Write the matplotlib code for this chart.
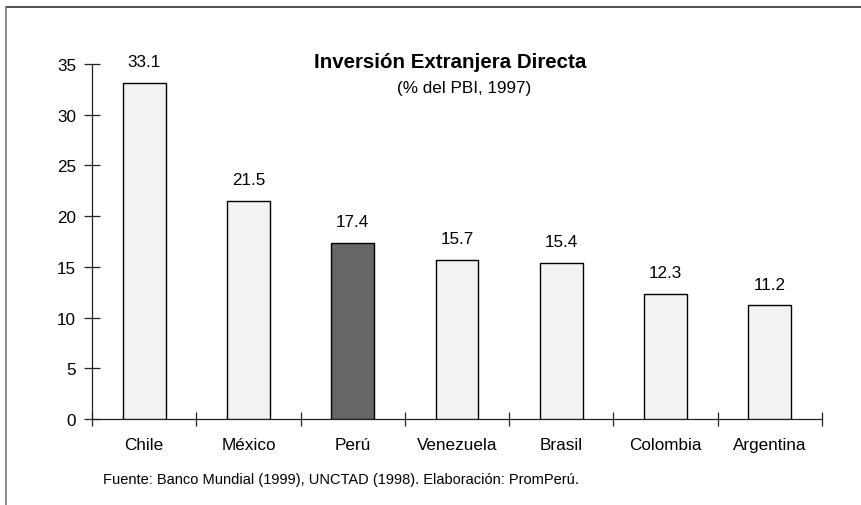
import matplotlib.pyplot as plt
from matplotlib.lines import Line2D
import numpy as np

plt.rcParams['font.family'] = ['Liberation Sans', 'DejaVu Sans']

paises = ['Chile', 'México', 'Perú', 'Venezuela', 'Brasil', 'Colombia', 'Argentina']
ied_pbi = [33.1, 21.5, 17.4, 15.7, 15.4, 12.3, 11.2]
colores = ['#f2f2f2', '#f2f2f2', '#666666', '#f2f2f2', '#f2f2f2', '#f2f2f2', '#f2f2f2']
yticks = [0, 5, 10, 15, 20, 25, 30, 35]

fig = plt.figure(figsize=(8.62, 5.06), dpi=100)
ax = fig.add_axes([92 / 862, 1 - 420 / 506, 730 / 862, 355 / 506])

x = np.arange(len(paises))
ax.bar(x, ied_pbi, width=0.41, color=colores, edgecolor='black', linewidth=1.0, zorder=3)

for xi, v in zip(x, ied_pbi):
    ax.annotate(f'{v:.1f}', (xi, v), xytext=(0, 10), textcoords='offset points',
                ha='center', va='bottom', fontsize=12.3)

ax.set_xlim(-0.5, len(paises) - 0.5)
ax.set_ylim(0, 35)
ax.set_yticks(yticks)
ax.set_yticklabels([str(t) for t in yticks], fontsize=12.3)

# category separators as ticks
ax.set_xticks(np.arange(len(paises) + 1) - 0.5)
ax.set_xticklabels([])
ax.set_xticks(x, minor=True)
ax.set_xticklabels(paises, minor=True, fontsize=12.3)
ax.tick_params(axis='x', which='minor', length=0, pad=13)
ax.tick_params(axis='x', which='major', direction='inout', length=10, width=0.9, color='#222222')
ax.tick_params(axis='y', direction='inout', length=11, width=0.9, color='#222222', pad=6)

for s in ['top', 'right']:
    ax.spines[s].set_visible(False)
for s in ['left', 'bottom']:
    ax.spines[s].set_linewidth(0.9)
    ax.spines[s].set_color('#222222')

fig.text(450 / 862, 1 - 62 / 506, 'Inversión Extranjera Directa', ha='center', va='center',
         fontsize=14.8, fontweight='bold')
fig.text(464 / 862, 1 - 88 / 506, '(% del PBI, 1997)', ha='center', va='center', fontsize=12.3)
fig.text(103 / 862, 1 - 480 / 506,
         'Fuente: Banco Mundial (1999), UNCTAD (1998). Elaboración: PromPerú.',
         ha='left', va='center', fontsize=10.5)

# outer frame (top and left edges)
fig.add_artist(Line2D([6 / 862, 1], [1 - 8 / 506, 1 - 8 / 506], transform=fig.transFigure,
                      color='#333333', linewidth=1.2))
fig.add_artist(Line2D([6 / 862, 6 / 862], [0, 1 - 8 / 506], transform=fig.transFigure,
                      color='#777777', linewidth=1.2))

fig.savefig('out.png', dpi=100)
